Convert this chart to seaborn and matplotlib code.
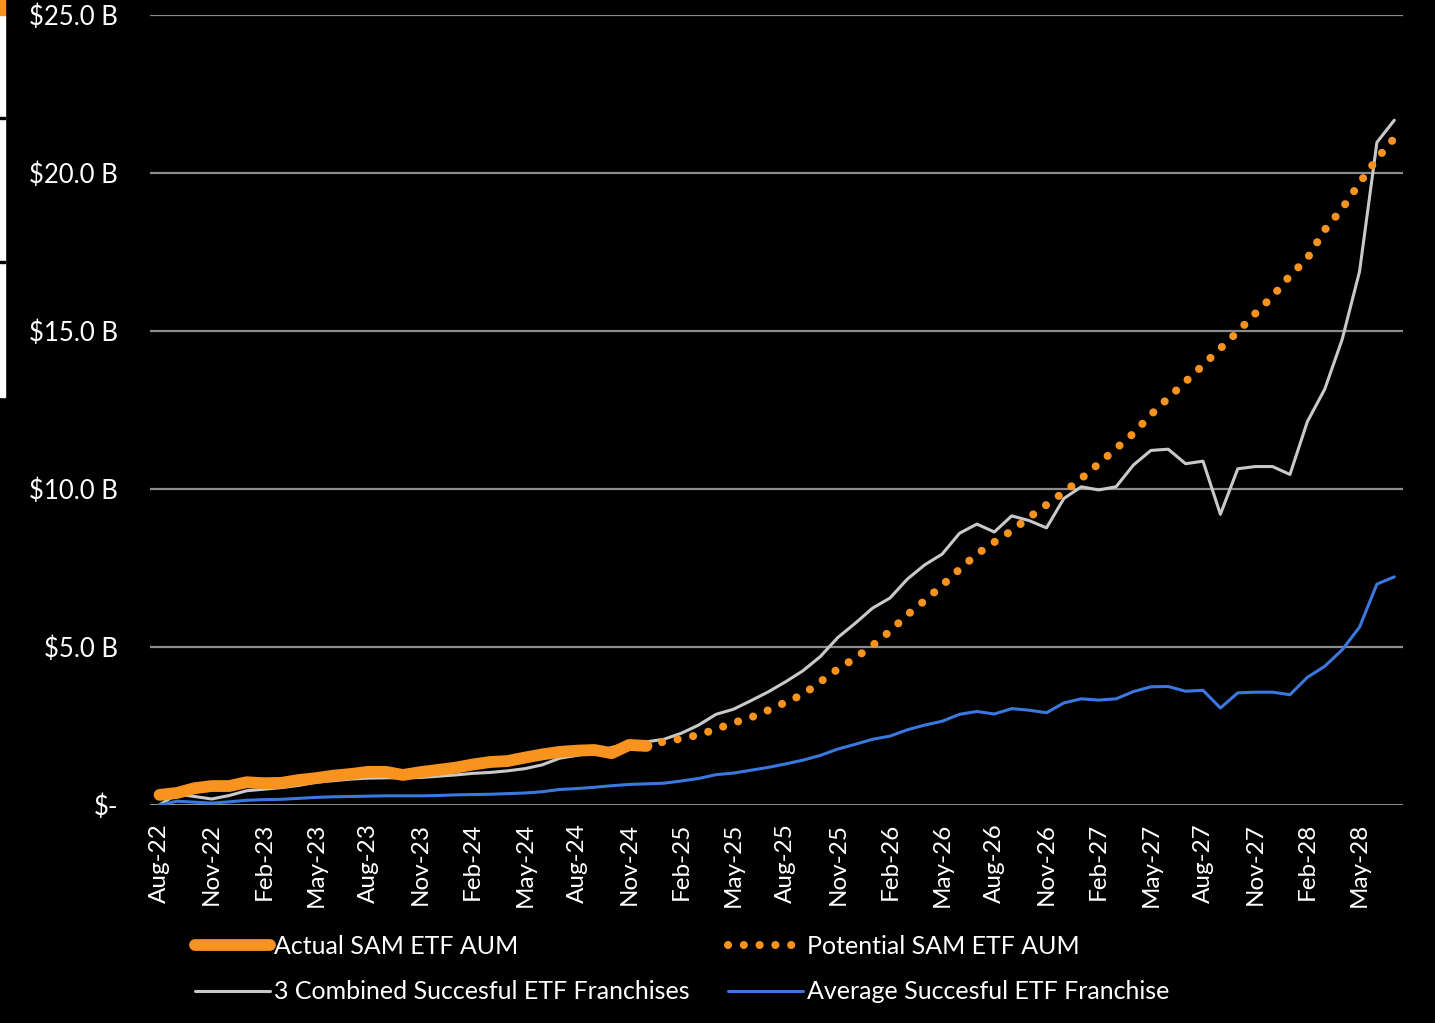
import numpy as np
import pandas as pd
import matplotlib
matplotlib.use("Agg")
import matplotlib.pyplot as plt
import seaborn as sns
from matplotlib.ticker import FuncFormatter
from matplotlib.patches import Rectangle

# Monthly axis: Aug-22 .. Jul-28
months = pd.date_range("2022-08-01", periods=72, freq="MS").strftime("%b-%y").tolist()

# Actual SAM ETF AUM ($B), Aug-22 .. Dec-24
actual = [0.32, 0.38, 0.53, 0.60, 0.60, 0.72, 0.69, 0.70, 0.79, 0.85,
          0.93, 0.98, 1.05, 1.05, 0.95, 1.04, 1.11, 1.18, 1.28, 1.36,
          1.39, 1.50, 1.60, 1.68, 1.72, 1.74, 1.64, 1.90, 1.87]

# Potential SAM ETF AUM ($B), Dec-24 .. Jul-28
potential = [1.90, 2.00, 2.10, 2.22, 2.40, 2.60, 2.77, 3.00, 3.25, 3.50,
             3.90, 4.30, 4.65, 5.05, 5.50, 6.02, 6.47, 6.95, 7.46, 7.94,
             8.32, 8.68, 9.10, 9.50, 9.90, 10.33, 10.80, 11.28, 11.76, 12.35,
             12.88, 13.40, 13.92, 14.45, 14.98, 15.55, 16.10, 16.75, 17.30, 18.20,
             18.87, 19.68, 20.45, 21.10]

# 3 Combined Succesful ETF Franchises ($B)
combined = [0.00, 0.35, 0.27, 0.19, 0.30, 0.45, 0.50, 0.55, 0.62, 0.72,
            0.77, 0.82, 0.85, 0.86, 0.86, 0.87, 0.91, 0.95, 1.00, 1.03,
            1.08, 1.15, 1.27, 1.48, 1.57, 1.68, 1.82, 1.96, 2.00, 2.08,
            2.27, 2.53, 2.87, 3.03, 3.30, 3.58, 3.90, 4.25, 4.70, 5.30,
            5.75, 6.23, 6.55, 7.15, 7.60, 7.94, 8.60, 8.89, 8.64, 9.15,
            9.00, 8.77, 9.70, 10.07, 9.97, 10.07, 10.76, 11.22, 11.26, 10.80,
            10.88, 9.20, 10.64, 10.71, 10.71, 10.46, 12.13, 13.16, 14.73, 16.88,
            20.97, 21.67]

# Average Succesful ETF Franchise ($B)
average = [0.00, 0.12, 0.09, 0.06, 0.10, 0.15, 0.17, 0.18, 0.21, 0.24,
           0.26, 0.27, 0.28, 0.29, 0.29, 0.29, 0.30, 0.32, 0.33, 0.34,
           0.36, 0.38, 0.42, 0.49, 0.52, 0.56, 0.61, 0.65, 0.67, 0.69,
           0.76, 0.84, 0.96, 1.01, 1.10, 1.19, 1.30, 1.42, 1.57, 1.77,
           1.92, 2.08, 2.18, 2.38, 2.53, 2.65, 2.87, 2.96, 2.88, 3.05,
           3.00, 2.92, 3.23, 3.36, 3.32, 3.36, 3.59, 3.74, 3.75, 3.60,
           3.63, 3.07, 3.55, 3.57, 3.57, 3.49, 4.04, 4.39, 4.91, 5.63,
           6.99, 7.22]

ORANGE = "#F7931E"
GRAY = "#C9C9C9"
BLUE = "#3A78E0"

sns.set_style("dark", {"axes.facecolor": "black", "figure.facecolor": "black"})
plt.rcParams["font.family"] = ["Lato", "DejaVu Sans"]

fig = plt.figure(figsize=(14.35, 10.23), dpi=100)
ax = fig.add_axes([150 / 1435, 1 - 805 / 1023, 1253 / 1435, 790 / 1023])
ax.set_facecolor("black")

x_all = np.arange(len(months))
x_act = x_all[:len(actual)]
x_pot = x_all[len(months) - len(potential):]

sns.lineplot(x=x_all, y=combined, ax=ax, color=GRAY, linewidth=2.2,
             label="3 Combined Succesful ETF Franchises")
sns.lineplot(x=x_all, y=average, ax=ax, color=BLUE, linewidth=2.2,
             label="Average Succesful ETF Franchise")
sns.lineplot(x=x_pot, y=potential, ax=ax, color=ORANGE, linewidth=5.8,
             linestyle=(0, (0.01, 1.95)), dash_capstyle="round",
             label="Potential SAM ETF AUM")
sns.lineplot(x=x_act, y=actual, ax=ax, color=ORANGE, linewidth=8.5,
             solid_capstyle="round", label="Actual SAM ETF AUM")

# gridlines
for v in [5, 10, 15, 20, 25]:
    ax.axhline(v, color="#8C8C8C", linewidth=1.6, zorder=0)
ax.axhline(0, color="#BFBFBF", linewidth=1.8, zorder=0)

ax.set_xlim(-0.55, len(months) - 0.5)
ax.set_ylim(0, 25)
ax.grid(False)
for s in ax.spines.values():
    s.set_visible(False)

ax.set_xticks(x_all[::3])
ax.set_xticklabels(months[::3], rotation=90, color="white", fontsize=17.5)
ax.set_yticks([0, 5, 10, 15, 20, 25])
ax.yaxis.set_major_formatter(FuncFormatter(lambda v, p: "$-" if v == 0 else f"${v:.1f} B"))
ax.tick_params(axis="y", colors="white", labelsize=18.5, length=0, pad=23)
ax.tick_params(axis="x", colors="white", length=0, pad=13)
ax.set_xlabel("")
ax.set_ylabel("")

h, l = ax.get_legend_handles_labels()
if ax.get_legend() is not None:
    ax.get_legend().remove()
lookup = dict(zip(l, h))
order = ["Actual SAM ETF AUM", "3 Combined Succesful ETF Franchises",
         "Potential SAM ETF AUM", "Average Succesful ETF Franchise"]
leg = fig.legend([lookup[k] for k in order], order, ncol=2, frameon=False,
                 loc="center left", bbox_to_anchor=(195 / 1435, 1 - 969 / 1023),
                 fontsize=18, handlelength=3.0, handletextpad=0.15,
                 columnspacing=1.55, labelspacing=0.9, borderpad=0, borderaxespad=0)
for t in leg.get_texts():
    t.set_color("white")

# left edge strip
fig.add_artist(Rectangle((0, 1 - 397 / 1023), 5 / 1435, 382 / 1023,
                         transform=fig.transFigure, color="white", zorder=5))
fig.add_artist(Rectangle((0, 1 - 15 / 1023), 5 / 1435, 15 / 1023,
                         transform=fig.transFigure, color=ORANGE, zorder=5))
for yy in [118, 262]:
    fig.add_artist(Rectangle((0, 1 - (yy + 1) / 1023), 5 / 1435, 2 / 1023,
                             transform=fig.transFigure, color="black", zorder=6))

fig.savefig("out.png", dpi=100, facecolor="black")
